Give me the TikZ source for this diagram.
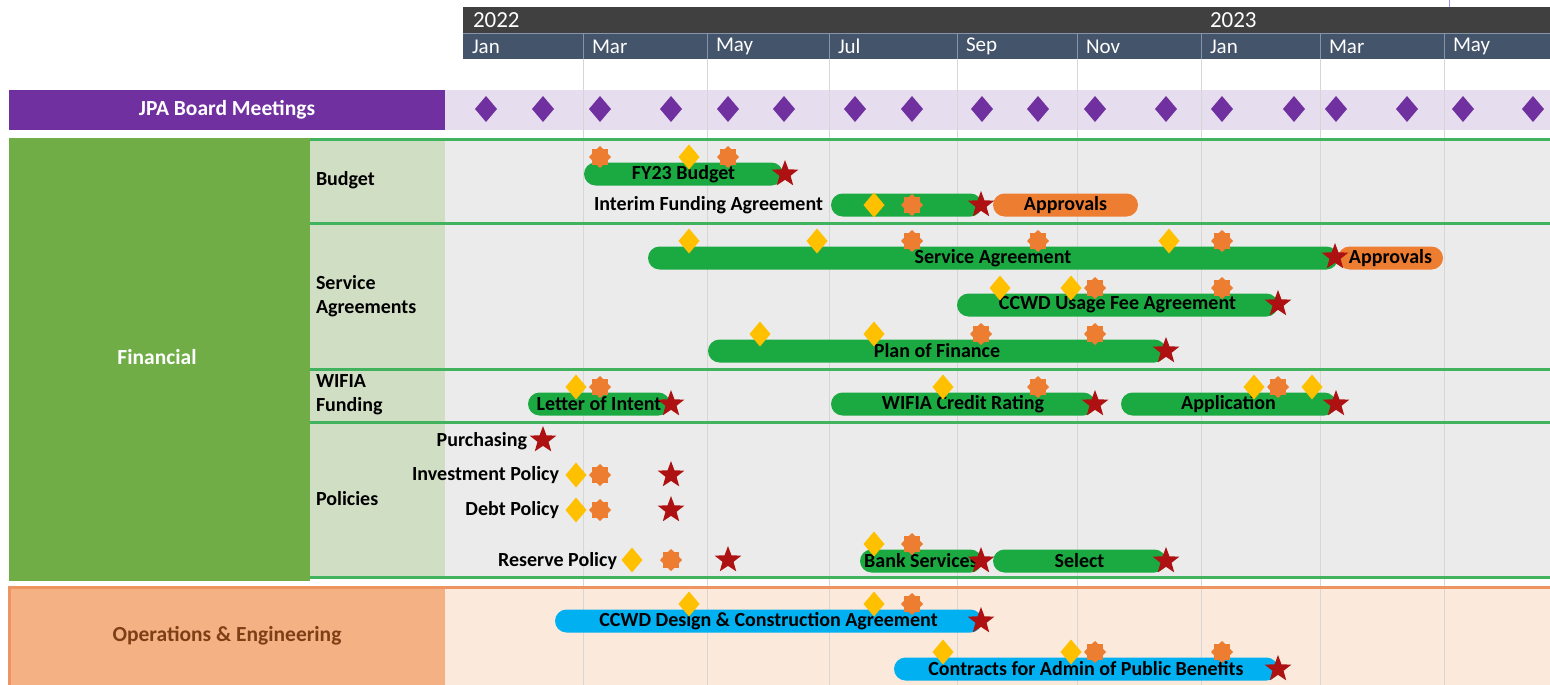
\documentclass[tikz,border=0pt]{standalone}
\usepackage{fontspec}
\setmainfont{Carlito}
\usetikzlibrary{shapes.geometric}

\definecolor{yeargray}{HTML}{404040}
\definecolor{monthslate}{HTML}{44546A}
\definecolor{monthsep}{HTML}{8594AB}
\definecolor{jpapurple}{HTML}{7030A0}
\definecolor{jpalav}{HTML}{E6DDEF}
\definecolor{fingreen}{HTML}{70AD47}
\definecolor{finsub}{HTML}{D0DEC4}
\definecolor{chartgray}{HTML}{EBEBEB}
\definecolor{sepgreen}{HTML}{41B35E}
\definecolor{taskgreen}{HTML}{1BAA41}
\definecolor{taskorange}{HTML}{ED7D31}
\definecolor{taskblue}{HTML}{00B0F0}
\definecolor{msyellow}{HTML}{FFC000}
\definecolor{dlred}{HTML}{AE1111}
\definecolor{opsfill}{HTML}{F4B183}
\definecolor{opsline}{HTML}{EE9460}
\definecolor{opspeach}{HTML}{FBE9DC}
\definecolor{opsbrown}{HTML}{7F3F16}
\definecolor{gridgray}{HTML}{D6D6D6}

\begin{document}
\begin{tikzpicture}[x=1pt, y=-1pt,
    font=\bfseries\fontsize{20}{24}\selectfont,
    every node/.style={inner sep=0pt, outer sep=0pt},
    gbar/.style={rectangle, rounded corners=11.5, fill=taskgreen, minimum height=23},
    obar/.style={gbar, fill=taskorange},
    bbar/.style={gbar, fill=taskblue},
    mtg/.style={diamond, fill=jpapurple, minimum width=22, minimum height=26},
    ms/.style={diamond, fill=msyellow, minimum width=21, minimum height=25},
    rv/.style={star, star points=8, star point ratio=1.3, fill=taskorange, minimum size=22},
    dl/.style={star, star points=5, star point ratio=2.4, fill=dlred, minimum size=28},
    catbox/.style={rectangle, text=white, font=\bfseries\fontsize{21.5}{24}\selectfont},
    sublbl/.style={anchor=west, align=left, font=\bfseries\fontsize{20}{24}\selectfont},
    tasklbl/.style={anchor=east},
    month/.style={anchor=west, text=white, font=\mdseries\fontsize{21}{24}\selectfont},
    year/.style={anchor=west, text=white, font=\mdseries\fontsize{23}{26}\selectfont},
    sep/.style={draw=sepgreen, line width=3}]
  \useasboundingbox (0,0) rectangle (1550,685);

  % timescale and lanes
  \fill[yeargray] (463,7) rectangle (1550,33);
  \fill[monthslate] (463,33) rectangle (1550,59);
  \draw[monthsep] (463,33) -- (1550,33);
  \draw[gridgray!70!blue] (1449,0) -- (1449,7);
  \fill[jpalav] (445,90) rectangle (1550,130);
  \fill[chartgray] (445,139) rectangle (1550,577);
  \fill[finsub] (310,139) rectangle (445,577);
  \fill[opspeach] (445,587) rectangle (1550,685);
  \foreach \x in {583,707,829,957,1077,1201,1320,1444}{
    \draw[monthsep] (\x,33) -- (\x,59);
    \draw[gridgray] (\x,59) -- (\x,685);
  }
  \foreach \y in {139,223,369,422,577}
    \draw[sep] (310,\y) -- (1550,\y);

  \node[year] (y2022) at (473,20) {2022};
  \node[year] (y2023) at (1210,20) {2023};
  \foreach \x/\m [count=\i] in {463/Jan,583/Mar,707/May,829/Jul,957/Sep,1077/Nov,1201/Jan,1320/Mar,1444/May}
    \node[month] (mon\i) at (\x+9,46.5) {\m};

  % categories
  \node[catbox, fill=jpapurple, minimum width=436, minimum height=40] (jpa) at (227,110) {JPA Board Meetings};
  \node[catbox, fill=fingreen, minimum width=301, minimum height=443] (fin) at (159.5,359.5) {};
  \node[catbox] (finlbl) at (157,357) {Financial};
  \node[catbox, fill=opsfill, text=opsbrown, minimum width=436, minimum height=98] (ops) at (227,636) {Operations \& Engineering};
  \draw[opsline, line width=3] (9,685) -- (9,587) -- (1550,587);

  \node[sublbl] (budget) at (316,180) {Budget};
  \node[sublbl] (svc) at (316,296) {Service\\Agreements};
  \node[sublbl] (wifia) at (316,395) {WIFIA\\Funding};
  \node[sublbl] (policies) at (316,499) {Policies};

  % board meetings
  \foreach \x [count=\i] in {486,543,600,671,728,784,855,912,982,1038,1095,1166,1222,1294,1336,1407,1463,1533}
    \node[mtg] (mtg\i) at (\x,109) {};

  % budget
  \node[gbar, minimum width=199] (fy23) at (683.5,174) {FY23 Budget};
  \foreach \x/\s [count=\i] in {600/rv,689/ms,728/rv}
    \node[\s] (fy23m\i) at (\x,157) {};
  \node[dl] (fy23dl) at (785,174) {};

  \node[tasklbl] (ifalbl) at (823,205) {Interim Funding Agreement};
  \node[gbar, minimum width=151] (ifa) at (906.5,205) {};
  \node[obar, minimum width=145] (ifaok) at (1065.5,205) {Approvals};
  \node[ms] (ifam1) at (874,205) {};
  \node[rv] (ifam2) at (912,205) {};
  \node[dl] (ifadl) at (981,205) {};

  % service agreements
  \node[gbar, minimum width=690] (sa) at (993,258) {Service Agreement};
  \node[obar, minimum width=105] (saok) at (1390.5,258) {Approvals};
  \foreach \x/\s [count=\i] in {689/ms,817/ms,912/rv,1038/rv,1169/ms,1222/rv}
    \node[\s] (sam\i) at (\x,241) {};
  \node[dl] (sadl) at (1335,257) {};

  \node[gbar, minimum width=321] (usage) at (1117.5,305) {CCWD Usage Fee Agreement};
  \foreach \x/\s [count=\i] in {1000/ms,1071/ms,1095/rv,1222/rv}
    \node[\s] (usagem\i) at (\x,288) {};
  \node[dl] (usagedl) at (1278,304) {};

  \node[gbar, minimum width=458] (pof) at (937,351) {Plan of Finance};
  \foreach \x/\s [count=\i] in {760/ms,874/ms,981/rv,1095/rv}
    \node[\s] (pofm\i) at (\x,334) {};
  \node[dl] (pofdl) at (1166,351) {};

  % wifia
  \node[gbar, minimum width=142] (loi) at (599,404) {Letter of Intent};
  \foreach \x/\s [count=\i] in {576/ms,600/rv}
    \node[\s] (loim\i) at (\x,387) {};
  \node[dl] (loidl) at (671,404) {};

  \node[gbar, minimum width=264] (rating) at (963,404) {WIFIA Credit Rating};
  \foreach \x/\s [count=\i] in {943/ms,1038/rv}
    \node[\s] (ratingm\i) at (\x,387) {};
  \node[dl] (ratingdl) at (1095,404) {};

  \node[gbar, minimum width=215] (app) at (1228.5,404) {Application};
  \foreach \x/\s [count=\i] in {1254/ms,1278/rv,1312/ms}
    \node[\s] (appm\i) at (\x,387) {};
  \node[dl] (appdl) at (1336,404) {};

  % policies
  \node[tasklbl] (purch) at (527,441) {Purchasing};
  \node[dl] (purchdl) at (543,440) {};

  \node[tasklbl] (invest) at (559,475) {Investment Policy};
  \node[ms] (investm1) at (576,475) {};
  \node[rv] (investm2) at (600,475) {};
  \node[dl] (investdl) at (671,475) {};

  \node[tasklbl] (debt) at (559,510) {Debt Policy};
  \node[ms] (debtm1) at (576,510) {};
  \node[rv] (debtm2) at (600,510) {};
  \node[dl] (debtdl) at (671,510) {};

  \node[tasklbl] (reserve) at (617,561) {Reserve Policy};
  \node[ms] (reservem1) at (632,560) {};
  \node[rv] (reservem2) at (671,560) {};
  \node[dl] (reservedl) at (728,560) {};

  \node[gbar, minimum width=122] (bank) at (921,561) {Bank Services};
  \node[ms] (bankm1) at (874,544) {};
  \node[rv] (bankm2) at (912,544) {};
  \node[dl] (bankdl) at (981,561) {};

  \node[gbar, minimum width=173] (select) at (1079.5,561) {Select};
  \node[dl] (selectdl) at (1166,561) {};

  % operations & engineering
  \node[bbar, minimum width=427] (design) at (768.5,621) {CCWD Design \& Construction Agreement};
  \foreach \x/\s [count=\i] in {689/ms,874/ms,912/rv}
    \node[\s] (designm\i) at (\x,604) {};
  \node[dl] (designdl) at (981,621) {};

  \node[bbar, minimum width=384] (admin) at (1086,669) {Contracts for Admin of Public Benefits};
  \foreach \x/\s [count=\i] in {943/ms,1071/ms,1095/rv,1222/rv}
    \node[\s] (adminm\i) at (\x,652) {};
  \node[dl] (admindl) at (1278,669) {};
\end{tikzpicture}
\end{document}
